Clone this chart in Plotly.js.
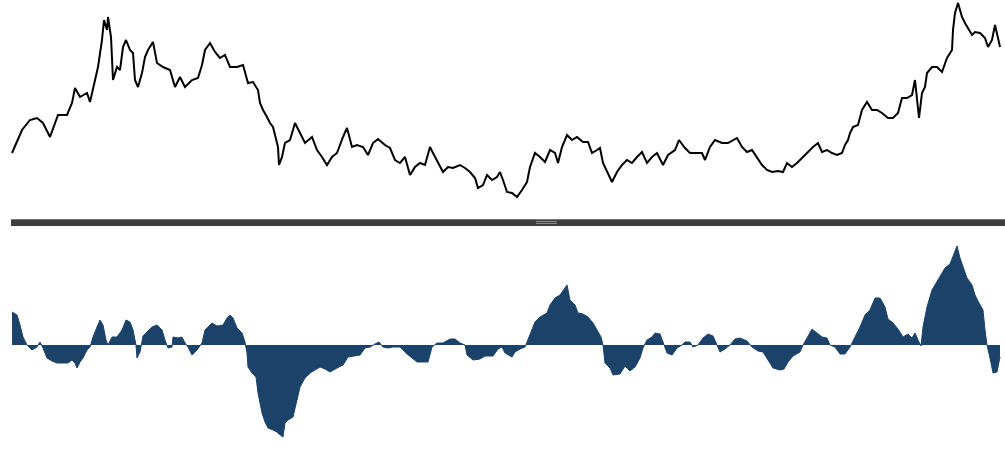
<!DOCTYPE html>
<html>
<head>
<meta charset="utf-8">
<script src="https://cdn.plot.ly/plotly-3.0.1.min.js"></script>
<style>html,body{margin:0;padding:0;background:#fff;}#chart{width:1005px;height:458px;}</style>
</head>
<body>
<div id="chart"></div>
<script>
// Price series (top panel): day index and price level
const priceDays = [12,22,30,37,43,50,58,67,72,75,80,87,90,95,98,102,104,107,108,111,113,117,120,123,126,130,133,135,138,142,145,148,153,157,163,170,175,180,185,192,198,202,205,210,215,220,225,230,237,243,248,253,258,260,263,267,270,273,278,279,282,285,290,295,300,305,312,317,322,327,332,337,343,347,352,357,363,368,373,378,385,390,395,400,405,408,410,415,420,425,430,433,438,443,448,453,460,465,470,475,478,483,487,492,497,500,503,507,512,517,522,527,530,535,540,545,550,555,558,562,567,572,577,583,588,592,597,600,603,608,612,617,622,627,632,637,642,647,652,657,663,668,675,679,685,690,697,702,705,710,715,722,728,737,742,747,752,757,762,767,772,778,783,787,792,797,802,807,813,818,822,827,832,837,842,845,848,850,853,858,862,867,872,877,882,888,893,898,902,907,912,915,917,919,922,925,927,932,937,942,947,952,953,955,958,962,965,968,972,975,980,985,988,992,995,998,1000];
const priceVals = [47,70,80,82,77,63,85,85,97,112,103,107,98,120,133,160,180,170,183,163,120,133,130,153,160,150,147,120,113,127,143,150,158,137,133,130,113,123,113,120,122,135,150,157,148,142,145,133,133,135,117,118,110,97,90,83,77,73,53,35,43,57,60,77,67,57,63,50,43,35,43,47,63,72,53,55,53,45,57,61,55,52,40,37,43,33,25,33,37,35,53,47,37,28,33,32,35,32,28,22,12,15,25,20,23,28,20,8,7,3,10,18,33,47,43,38,50,47,37,53,65,60,63,58,58,47,50,52,37,27,18,28,35,40,37,43,48,37,43,47,35,45,50,60,52,47,47,47,40,53,60,57,57,62,53,48,50,42,35,30,28,29,28,37,33,37,42,48,53,57,48,50,47,45,47,55,60,67,73,75,90,98,90,90,87,82,82,87,102,102,105,120,103,82,107,113,127,133,133,128,142,150,170,187,197,183,177,172,165,168,167,162,153,160,175,162,153];

// Oscillator series (bottom panel)
const oscDays = [12,17,20,23,27,32,37,40,43,47,52,57,63,68,72,75,77,80,83,87,90,93,97,100,103,106,108,112,117,122,126,130,133,136,137,140,143,147,152,157,162,165,168,172,173,178,182,185,188,192,197,202,205,208,212,217,223,227,230,233,237,242,245,247,248,252,256,258,262,265,268,273,277,279,283,285,288,293,297,300,305,310,315,320,325,330,337,343,348,353,360,365,370,375,379,383,388,393,400,407,412,417,423,428,432,437,443,450,455,460,465,467,473,480,485,493,498,502,505,512,515,520,525,528,532,535,540,547,550,555,560,563,567,570,575,578,583,588,593,597,601,603,605,610,613,620,625,630,635,640,643,647,652,655,660,663,667,672,677,682,685,690,693,698,703,708,713,717,720,725,730,735,740,747,752,758,763,768,773,780,784,788,793,800,803,807,812,817,822,827,830,835,840,845,850,855,860,865,870,875,880,885,888,893,898,903,908,912,915,918,921,923,927,932,937,942,945,950,953,957,960,963,967,972,975,979,983,985,987,990,993,997,1000];
const oscVals = [33,30,20,8,0,-5,-2,3,-3,-13,-16,-18,-18,-18,-15,-18,-23,-17,-13,-5,-2,8,18,25,20,5,0,8,8,15,25,23,15,0,-13,-7,9,13,18,20,15,5,-3,-2,8,7,8,2,-2,-10,-5,2,15,18,22,19,20,27,30,27,17,12,3,-8,-22,-28,-32,-48,-68,-77,-83,-85,-87,-89,-92,-78,-75,-72,-55,-42,-33,-28,-25,-22,-24,-27,-23,-20,-12,-11,-10,-3,-2,1,3,-2,-3,-2,-2,-9,-13,-17,-17,-17,-2,2,2,6,6,2,0,-10,-15,-14,-11,-11,-4,-2,-8,-12,-7,-4,-2,5,15,23,28,32,40,47,50,54,60,45,40,32,31,28,22,15,8,0,-18,-23,-30,-29,-21,-26,-22,-13,-3,5,8,12,11,3,-8,-10,-3,0,3,3,-2,0,7,11,9,0,-7,-4,0,6,7,4,-2,-6,-7,-15,-23,-25,-24,-17,-11,-7,0,7,16,12,8,7,0,-2,-9,-9,-2,8,18,30,35,47,47,38,26,22,16,8,11,7,12,5,-1,18,38,55,63,72,77,81,88,99,87,78,67,60,50,42,35,15,0,-13,-28,-27,-12];

const data = [
  {x: priceDays, y: priceVals, type: 'scatter', mode: 'lines',
   line: {color: '#000000', width: 2}, xaxis: 'x', yaxis: 'y', hoverinfo: 'skip'},
  {x: oscDays, y: oscVals, type: 'scatter', mode: 'lines', fill: 'tozeroy',
   fillcolor: '#1b436a', line: {color: '#1b436a', width: 1}, xaxis: 'x2', yaxis: 'y2', hoverinfo: 'skip'}
];

const H = 458;
const layout = {
  width: 1005, height: 458,
  margin: {l: 0, r: 0, t: 0, b: 0},
  paper_bgcolor: '#ffffff', plot_bgcolor: '#ffffff',
  showlegend: false,
  xaxis: {range: [0, 1005], visible: false, fixedrange: true},
  yaxis: {domain: [1 - 215 / H, 1], range: [-15, 200], visible: false, fixedrange: true},
  xaxis2: {range: [0, 1005], visible: false, anchor: 'y2', fixedrange: true},
  yaxis2: {domain: [0, 1 - 228 / H], range: [-113, 117], visible: false, anchor: 'x2', fixedrange: true},
  shapes: [
    {type: 'rect', xref: 'paper', yref: 'paper', x0: 11 / 1005, x1: 1, y0: (H - 226) / H, y1: (H - 219) / H,
     fillcolor: '#3d3d3d', line: {width: 0}, layer: 'above'},
    {type: 'rect', xref: 'paper', yref: 'paper', x0: 11 / 1005, x1: 1, y0: (H - 220) / H, y1: (H - 219) / H,
     fillcolor: '#7a7a7a', line: {width: 0}, layer: 'above'},
    {type: 'rect', xref: 'paper', yref: 'paper', x0: 536 / 1005, x1: 557 / 1005, y0: (H - 222) / H, y1: (H - 221) / H,
     fillcolor: '#8a8a8a', line: {width: 0}, layer: 'above'},
    {type: 'rect', xref: 'paper', yref: 'paper', x0: 536 / 1005, x1: 557 / 1005, y0: (H - 224) / H, y1: (H - 223) / H,
     fillcolor: '#8a8a8a', line: {width: 0}, layer: 'above'}
  ]
};

Plotly.newPlot('chart', data, layout, {displayModeBar: false, staticPlot: true});
</script>
</body>
</html>
